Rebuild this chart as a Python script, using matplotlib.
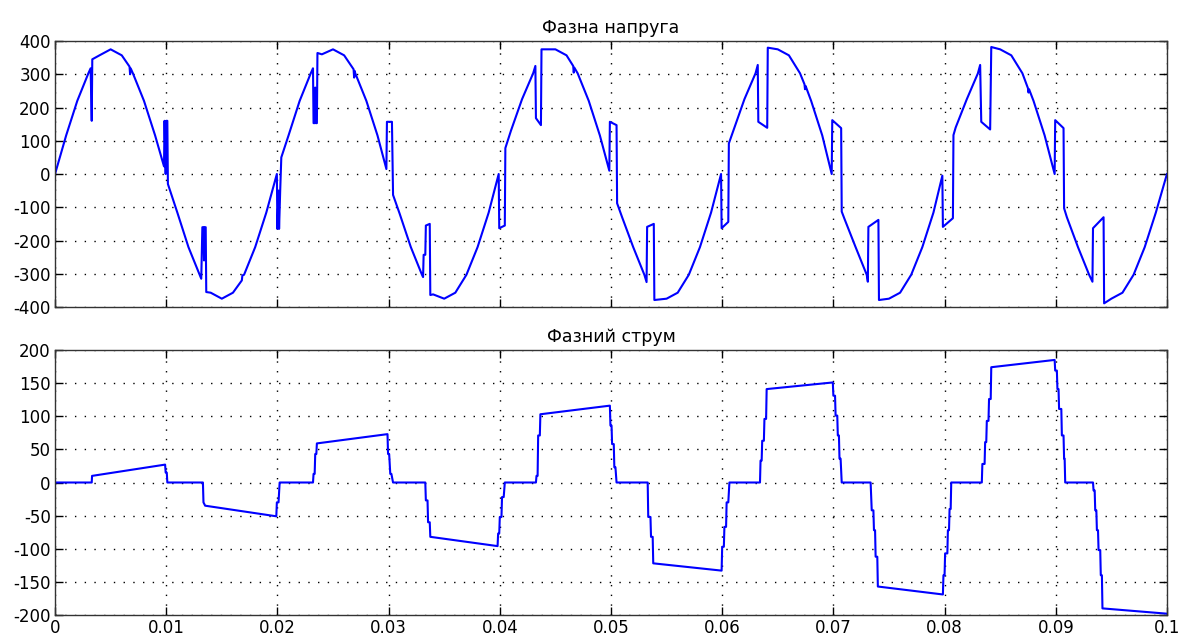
import matplotlib
matplotlib.use("Agg")
import matplotlib.pyplot as plt
import numpy as np

plt.rcParams['font.family'] = ['DejaVu Sans']
plt.rcParams['axes.unicode_minus'] = False

# фазна напруга: час (мс) і значення (В)
u_t = [0, 1, 2, 3, 3.2, 3.3, 3.35, 4, 5, 6, 6.7, 6.75, 6.8, 7, 8, 9, 9.8, 9.85, 9.95, 10.0, 10.1, 10.15,
       11, 12, 13, 13.15, 13.25, 13.35, 13.4, 13.45, 13.55, 13.6, 14, 15, 16, 16.8, 16.85, 17, 18, 19, 19.95,
       20.0, 20.1, 20.15, 20.25, 20.35,
       21, 22, 23, 23.2, 23.25, 23.35, 23.4, 23.45, 23.55, 23.6, 24, 25, 26, 26.85, 26.9, 26.95, 27, 28, 29,
       29.8, 29.85, 30.3, 30.35, 30.4,
       31, 32, 33, 33.1, 33.15, 33.3, 33.35, 33.7, 33.75, 34, 35, 36, 37, 38, 39, 39.9,
       39.95, 40.45, 40.5,
       41, 42, 43, 43.2, 43.25, 43.7, 43.75, 45, 46, 46.6, 46.65, 46.7, 47, 48, 49, 49.85,
       49.9, 50.5, 50.55,
       51, 52, 53, 53.2, 53.25, 53.85, 53.9, 55, 56, 57, 58, 59, 59.9,
       59.95, 60.55, 60.6,
       61, 62, 63, 63.2, 63.25, 64.05, 64.1, 65, 66, 67, 67.4, 67.45, 67.5, 68, 69, 69.85,
       69.9, 70.7, 70.75,
       71, 72, 73, 73.1, 73.15, 74.05, 74.1, 75, 76, 77, 78, 79, 79.8,
       79.85, 80.75, 80.8,
       81, 82, 83, 83.2, 83.3, 84.1, 84.15, 84.2, 85, 86, 87, 87.5, 87.55, 87.6, 88, 89, 89.9,
       89.95, 90.7, 90.75,
       91, 92, 93, 93.3, 93.35, 94.3, 94.35, 95, 96, 97, 98, 99, 100]
u_v = [0, 116, 220, 303, 318, 160, 345, 357, 375, 357, 323, 300, 318, 303, 220, 116, 23, 160, 0, 160, 160, -30,
       -116, -220, -303, -315, -160, -160, -260, -160, -160, -355, -357, -375, -357, -320, -305, -303, -220, -116, 0,
       -165, -50, -165, -50, 50,
       116, 220, 303, 318, 153, 153, 260, 153, 153, 364, 360, 375, 357, 315, 290, 310, 303, 220, 116,
       15, 157, 157, 48, -63,
       -120, -220, -303, -310, -243, -243, -155, -150, -364, -362, -375, -357, -303, -220, -116, 0,
       -163, -155, 78,
       130, 225, 303, 325, 168, 147, 375, 375, 357, 325, 305, 320, 303, 220, 116, 10,
       157, 147, -88,
       -130, -220, -303, -325, -159, -150, -379, -375, -357, -303, -220, -116, 0,
       -163, -144, 92,
       130, 225, 303, 328, 157, 139, 380, 375, 357, 303, 270, 255, 265, 220, 116, 0,
       162, 138, -113,
       -135, -220, -303, -324, -159, -138, -379, -375, -357, -303, -220, -116, -5,
       -159, -133, 117,
       140, 225, 303, 328, 157, 134, 258, 382, 375, 357, 303, 258, 245, 255, 220, 116, 0,
       162, 138, -103,
       -130, -220, -303, -324, -163, -130, -389, -375, -357, -303, -220, -116, 0]

# фазний струм: час (мс) і значення (А)
i_t = [0, 3.3, 3.33, 9.9, 9.95, 10.05, 10.1,
       13.3, 13.35, 13.5, 19.9, 19.95, 20.1, 20.2,
       23.2, 23.25, 23.35, 23.4, 23.5, 23.55, 29.9, 29.95, 30.05, 30.15, 30.25, 30.4,
       33.3, 33.35, 33.5, 33.55, 33.7, 33.75, 39.8, 39.85, 39.95, 40.0, 40.15, 40.2, 40.35, 40.45,
       43.25, 43.3, 43.4, 43.45, 43.6, 43.65, 49.9, 49.95, 50.05, 50.1, 50.25, 50.3, 50.4, 50.5,
       53.3, 53.35, 53.55, 53.6, 53.75, 53.8, 59.95, 60.0, 60.15, 60.2, 60.35, 60.4, 60.55, 60.65,
       63.4, 63.45, 63.55, 63.6, 63.75, 63.8, 63.95, 64.0, 69.95, 70.0, 70.15, 70.2, 70.35, 70.4,
       70.5, 70.55, 70.65, 70.75,
       73.35, 73.45, 73.6, 73.65, 73.75, 73.8, 73.95, 74.0, 79.85, 79.9, 80.0, 80.05, 80.25, 80.3,
       80.4, 80.45, 80.55, 80.6,
       83.35, 83.4, 83.6, 83.65, 83.75, 83.8, 83.95, 84.0, 84.15, 84.2, 89.9, 89.95, 90.1, 90.15,
       90.25, 90.3, 90.5, 90.55, 90.7, 90.75, 90.8, 90.85,
       93.35, 93.4, 93.5, 93.55, 93.65, 93.7, 93.8, 93.85, 94.0, 94.05, 94.15, 94.2, 100]
i_v = [0, 0, 10, 27, 15, 15, 0,
       0, -30, -35, -51, -30, -30, 0,
       0, 13, 13, 43, 43, 59, 73, 43, 43, 13, 13, 0,
       0, -27, -27, -60, -60, -82, -96, -77, -77, -52, -52, -22, -22, 0,
       0, 10, 10, 71, 71, 103, 116, 86, 86, 58, 58, 23, 23, 0,
       0, -52, -52, -82, -82, -122, -133, -97, -97, -67, -67, -30, -30, 0,
       0, 33, 33, 63, 63, 96, 96, 141, 151, 131, 131, 101, 101, 71,
       71, 36, 36, 0,
       0, -42, -42, -72, -72, -112, -112, -157, -169, -140, -140, -107, -107, -72,
       -72, -40, -40, 0,
       0, 28, 28, 61, 61, 93, 93, 126, 126, 174, 185, 169, 169, 141,
       141, 111, 111, 71, 71, 36, 36, 0,
       0, -12, -12, -42, -42, -72, -72, -102, -102, -140, -140, -190, -198]

x_ticks = [0, 0.01, 0.02, 0.03, 0.04, 0.05, 0.06, 0.07, 0.08, 0.09, 0.1]
x_labels = ['0', '0.01', '0.02', '0.03', '0.04', '0.05', '0.06', '0.07', '0.08', '0.09', '0.1']
u_ticks = [-400, -300, -200, -100, 0, 100, 200, 300, 400]
i_ticks = [-200, -150, -100, -50, 0, 50, 100, 150, 200]

fig = plt.figure(figsize=(11.81, 6.36), dpi=100)
ax1 = fig.add_axes([0.0466, 0.5173, 0.9415, 0.4182])
ax2 = fig.add_axes([0.0466, 0.033, 0.9415, 0.4167])

ax1.plot(np.array(u_t) / 1000, u_v, color='#0000ff', linewidth=1.5)
ax2.plot(np.array(i_t) / 1000, i_v, color='#0000ff', linewidth=1.5)

for ax, yt, title in [(ax1, u_ticks, 'Фазна напруга'), (ax2, i_ticks, 'Фазний струм')]:
    ax.set_xlim(0, 0.1)
    ax.set_ylim(yt[0], yt[-1])
    ax.set_yticks(yt)
    ax.set_xticks(x_ticks)
    ax.set_title(title, fontsize=12.5, pad=6)
    ax.grid(True, color='black', linestyle=(0, (1, 6)), linewidth=1)
    ax.tick_params(direction='in', top=True, right=True, length=6, width=1, labelsize=12, pad=3)
    for s in ax.spines.values():
        s.set_linewidth(1)
        s.set_color('#333333')

ax1.set_xticklabels([])
ax2.set_xticklabels(x_labels)

fig.savefig('out.png', dpi=100)
